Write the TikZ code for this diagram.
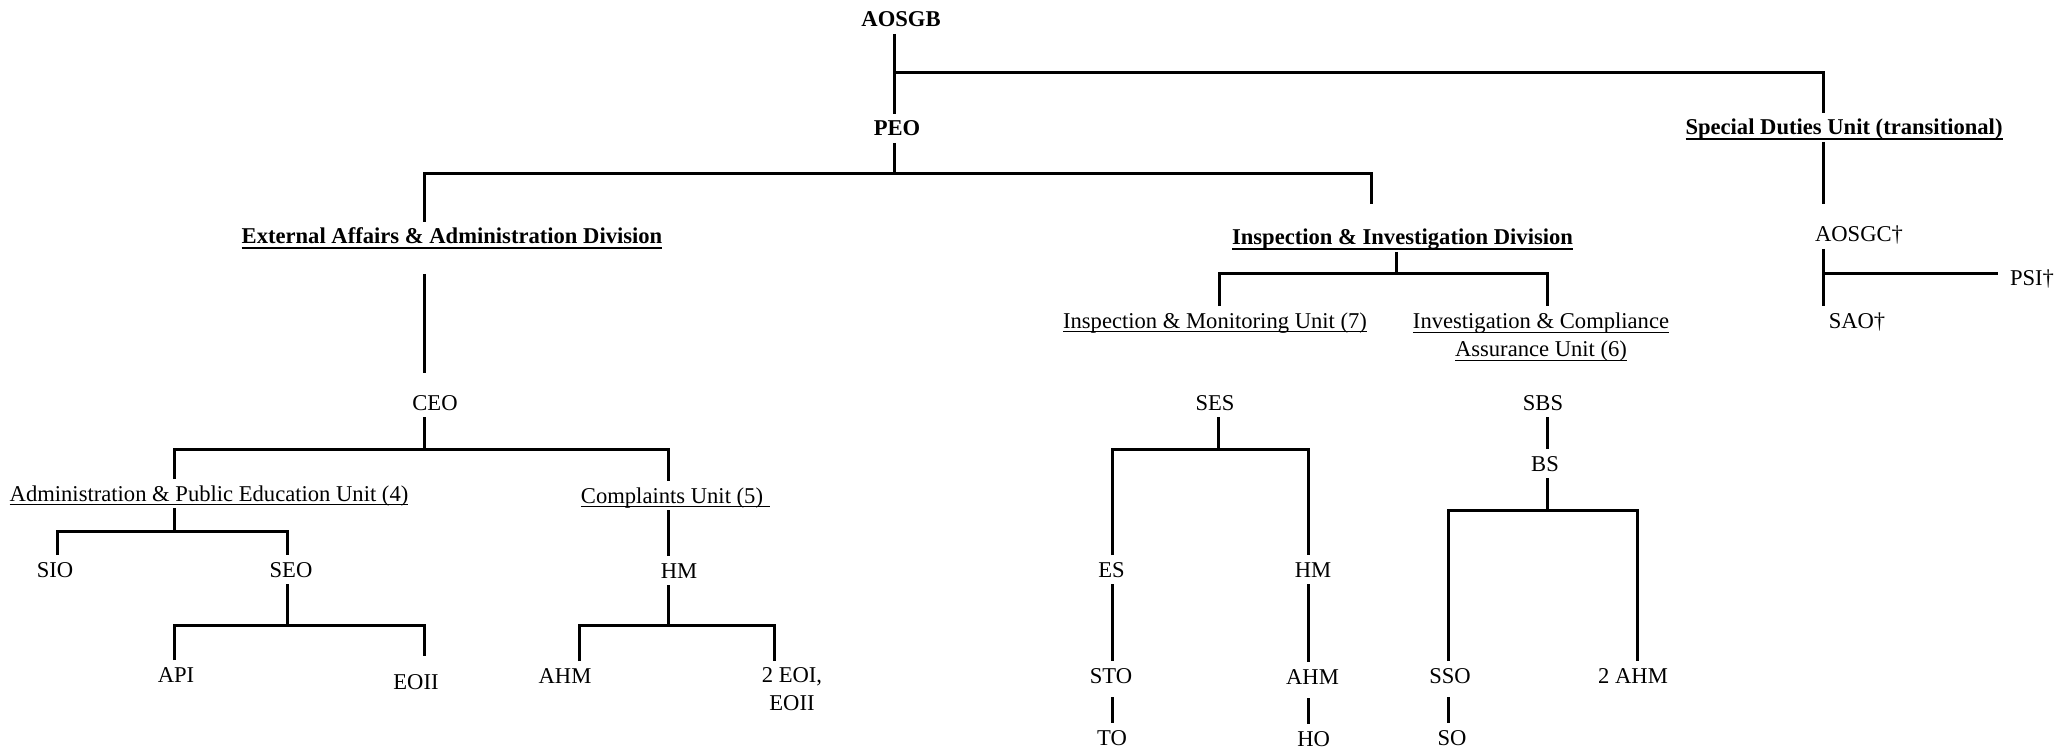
\documentclass[tikz,border=0pt]{standalone}
\usepackage{fontspec}
\setmainfont{Liberation Serif}
\newcommand{\ulx}[3]{\setbox0\hbox{#3}\rlap{\rule[-#2]{\wd0}{#1}}\box0}
\newcommand{\uln}[1]{\ulx{1pt}{4pt}{#1}}
\newcommand{\bul}[1]{\ulx{2pt}{5pt}{#1}}
\begin{document}
\begin{tikzpicture}[x=1pt,y=-1pt,
  lbl/.style={font=\fontsize{22.6}{28}\selectfont, inner sep=0pt, outer xsep=0pt, outer ysep=7pt, text height=15pt, text depth=0pt, anchor=base},
  lblb/.style={lbl, font=\fontsize{22.6}{28}\selectfont\bfseries},
  multi/.style={font=\fontsize{22.6}{28}\selectfont, inner sep=0pt, outer xsep=0pt, outer ysep=7pt, align=center, anchor=north},
  conn/.style={line width=3pt}]
\useasboundingbox (0,0) rectangle (2071,751);

% ---- nodes ----
\node[lblb] (aosgb) at (901,27) {AOSGB};
\node[lblb] (peo) at (897,136) {PEO};
\node[lblb] (sdu) at (1844,135) {\bul{Special Duties Unit (transitional)}};
\node[lblb] (eaad) at (452,244) {\bul{External Affairs \& Administration Division}};
\node[lblb] (iid) at (1402.5,245) {\bul{Inspection \& Investigation Division}};
\node[lbl] (aosgc) at (1859,242) {AOSGC†};
\node[lbl, anchor=base west, outer xsep=12pt] (psi) at (1998,285) {PSI†};
\node[lbl] (sao) at (1857,328) {SAO†};
\node[lbl] (imu) at (1215,328) {\uln{Inspection \& Monitoring Unit (7)}};
\node[multi] (icau) at (1541,306) {\uln{Investigation \& Compliance}\\\uln{Assurance Unit (6)}};
\node[lbl] (ceo) at (435,410) {CEO};
\node[lbl] (apeu) at (209,501) {\uln{Administration \& Public Education Unit (4)}};
\node[lbl] (cu) at (675.5,503) {\uln{Complaints Unit (5)\kern7pt}};
\node[lbl] (sio) at (55,577) {SIO};
\node[lbl] (seo) at (291,577) {SEO};
\node[lbl] (hma) at (679,578) {HM};
\node[lbl] (api) at (176,682) {API};
\node[lbl] (eoii) at (416,689) {EOII};
\node[lbl] (ahma) at (565,683) {AHM};
\node[multi] (eoi) at (792,661) {2 EOI,\\EOII};
\node[lbl] (ses) at (1215,410) {SES};
\node[lbl] (sbs) at (1543,410) {SBS};
\node[lbl] (bs) at (1545,471) {BS};
\node[lbl] (es) at (1111.6,577) {ES};
\node[lbl] (hmb) at (1313,577) {HM};
\node[lbl] (sto) at (1111,683) {STO};
\node[lbl] (ahmb) at (1312.5,684) {AHM};
\node[lbl] (sso) at (1450,683) {SSO};
\node[lbl] (ahmc) at (1633,683) {2 AHM};
\node[lbl] (to) at (1112,745) {TO};
\node[lbl] (ho) at (1313.6,746) {HO};
\node[lbl] (so) at (1452,745) {SO};

% ---- junction coordinates ----
\coordinate (jA) at (894,73);
\coordinate (cS) at (1823,73);
\coordinate (jO) at (1823,274);
\coordinate (bP) at (894,174);
\coordinate (bPl) at (424.5,174);
\coordinate (bPr) at (1371.6,174);
\coordinate (bC) at (424.5,449);
\coordinate (bCl) at (174.5,449);
\coordinate (bCr) at (668.6,449);
\coordinate (bA) at (174.5,531);
\coordinate (bAl) at (57,531);
\coordinate (bAr) at (287,531);
\coordinate (bE) at (287,625);
\coordinate (bEl) at (174.5,625);
\coordinate (bEr) at (424.5,625);
\coordinate (bH) at (668.6,625);
\coordinate (bHl) at (579,625);
\coordinate (bHr) at (774,625);
\coordinate (bI) at (1396,274);
\coordinate (bIl) at (1219,274);
\coordinate (bIr) at (1547,274);
\coordinate (bSE) at (1218,449);
\coordinate (bSEl) at (1112,449);
\coordinate (bSEr) at (1308.6,449);
\coordinate (bB) at (1547,510);
\coordinate (bBl) at (1448,510);
\coordinate (bBr) at (1637.6,510);

% ---- connectors ----
\draw[conn] (aosgb.south -| jA) -- (peo.north -| jA);
\draw[conn] (jA) -- (cS) -- (sdu.north -| cS);
\draw[conn] (sdu.south -| cS) -- ([yshift=16pt]aosgc.north -| cS);
\draw[conn] (aosgc.south -| cS) -- (sao.north -| cS);
\draw[conn] (jO) -- (jO -| psi.west);

\draw[conn] (peo.south -| bP) -- (bP);
\draw[conn] (eaad.north -| bPl) -- (bPl) -- (bPr) -- ([yshift=19pt]iid.north -| bPr);
\draw[conn] ([yshift=-23pt]eaad.south -| bPl) -- ([yshift=15pt]ceo.north -| bPl);

\draw[conn] (ceo.south -| bC) -- (bC);
\draw[conn] (apeu.north -| bCl) -- (bCl) -- (bCr) -- (cu.north -| bCr);
\draw[conn] (apeu.south -| bA) -- (bA);
\draw[conn] (sio.north -| bAl) -- (bAl) -- (bAr) -- (seo.north -| bAr);
\draw[conn] (seo.south -| bE) -- (bE);
\draw[conn] (api.north -| bEl) -- (bEl) -- (bEr) -- ([yshift=11pt]eoii.north -| bEr);
\draw[conn] (cu.south -| bCr) -- (hma.north -| bCr);
\draw[conn] (hma.south -| bH) -- (bH);
\draw[conn] (ahma.north -| bHl) -- (bHl) -- (bHr) -- (eoi.north -| bHr);

\draw[conn] (iid.south -| bI) -- (bI);
\draw[conn] (imu.north -| bIl) -- (bIl) -- (bIr) -- (icau.north -| bIr);

\draw[conn] (ses.south -| bSE) -- (bSE);
\draw[conn] (es.north -| bSEl) -- (bSEl) -- (bSEr) -- (hmb.north -| bSEr);
\draw[conn] (es.south -| bSEl) -- (sto.north -| bSEl);
\draw[conn] (hmb.south -| bSEr) -- (ahmb.north -| bSEr);
\draw[conn] ([yshift=-7pt]sto.south -| bSEl) -- (to.north -| bSEl);
\draw[conn] ([yshift=-7pt]ahmb.south -| bSEr) -- (ho.north -| bSEr);

\draw[conn] (sbs.south -| bB) -- (bs.north -| bB);
\draw[conn] (bs.south -| bB) -- (bB);
\draw[conn] (sso.north -| bBl) -- (bBl) -- (bBr) -- (ahmc.north -| bBr);
\draw[conn] ([yshift=-7pt]sso.south -| bBl) -- (so.north -| bBl);
\end{tikzpicture}
\end{document}
